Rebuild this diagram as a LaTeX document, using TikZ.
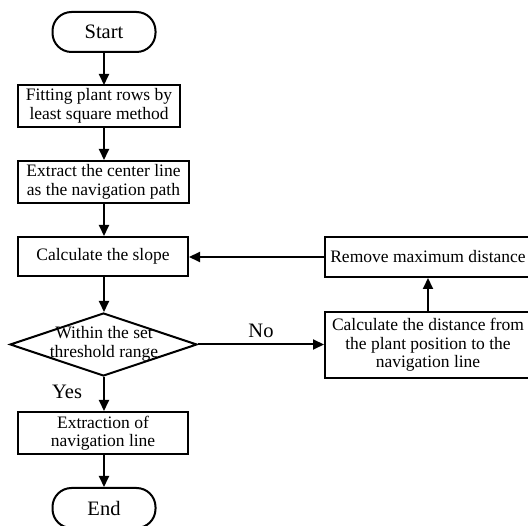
\documentclass[tikz,border=0pt]{standalone}
\usepackage{fontspec}
\setmainfont{Liberation Serif}
\usetikzlibrary{shapes.geometric,arrows.meta}
\begin{document}
\begin{tikzpicture}[x=1pt,y=-1pt,
  every node/.style={font=\fontsize{17.5}{18.5}\selectfont, align=center, inner sep=0pt},
  big/.style={font=\fontsize{20.5}{22}\selectfont},
  box/.style={draw, line width=2pt, rectangle},
  term/.style={draw, line width=2pt, rectangle, rounded corners=19pt, big},
  dec/.style={draw, line width=2pt, diamond, aspect=3},
  arr/.style={line width=2pt, -{Triangle[length=11pt,width=10pt]}},
  ln/.style={line width=2pt}]
\useasboundingbox (0,0) rectangle (528,526);
\fill[white] (0,0) rectangle (528,526);
\node[term, minimum width=103pt, minimum height=40pt] (start) at (104,32) {Start};
\node[box, minimum width=162pt, minimum height=42pt] (b1) at (99,106) {Fitting plant rows by\\least square method};
\node[box, minimum width=171pt, minimum height=42pt] (b2) at (103.5,182) {Extract the center line\\as the navigation path};
\node[box, minimum width=170pt, minimum height=39pt] (b3) at (103,256.5) {Calculate the slope};
\node[dec, minimum width=187pt, minimum height=63pt] (dia) at (103.5,344.5) {};
\node (diat) at (104,344) {Within the set\\threshold range};
\node[box, minimum width=170pt, minimum height=42pt] (b4) at (103,433) {Extraction of\\navigation line};
\node[term, minimum width=103pt, minimum height=40pt] (end) at (104,508) {End};
\node[box, minimum width=206pt, minimum height=40pt] (r1) at (428,257) {Remove maximum distance};
\node[box, minimum width=206pt, minimum height=66pt] (r2) at (428,345) {Calculate the distance from\\the plant position to the\\navigation line};
\draw[arr] (start.south -| 104,0) -- (104,85);
\draw[arr] (104,127) -- (b2.north -| 104,0);
\draw[arr] (b2.south -| 104,0) -- (b3.north -| 104,0);
\draw[arr] (b3.south -| 104,0) -- (dia.north -| 104,0);
\draw[arr] (dia.south -| 104,0) -- node[pos=0.45, left=21pt, big] {Yes} (b4.north -| 104,0);
\draw[arr] (b4.south -| 104,0) -- (end.north -| 104,0);
\draw[arr] (dia.east) -- node[above=6pt, big] {No} (r2.west |- dia.east);
\draw[arr] (r2.north) -- (r1.south);
\draw[arr] (r1.west) -- (b3.east |- r1.west);
\end{tikzpicture}
\end{document}
